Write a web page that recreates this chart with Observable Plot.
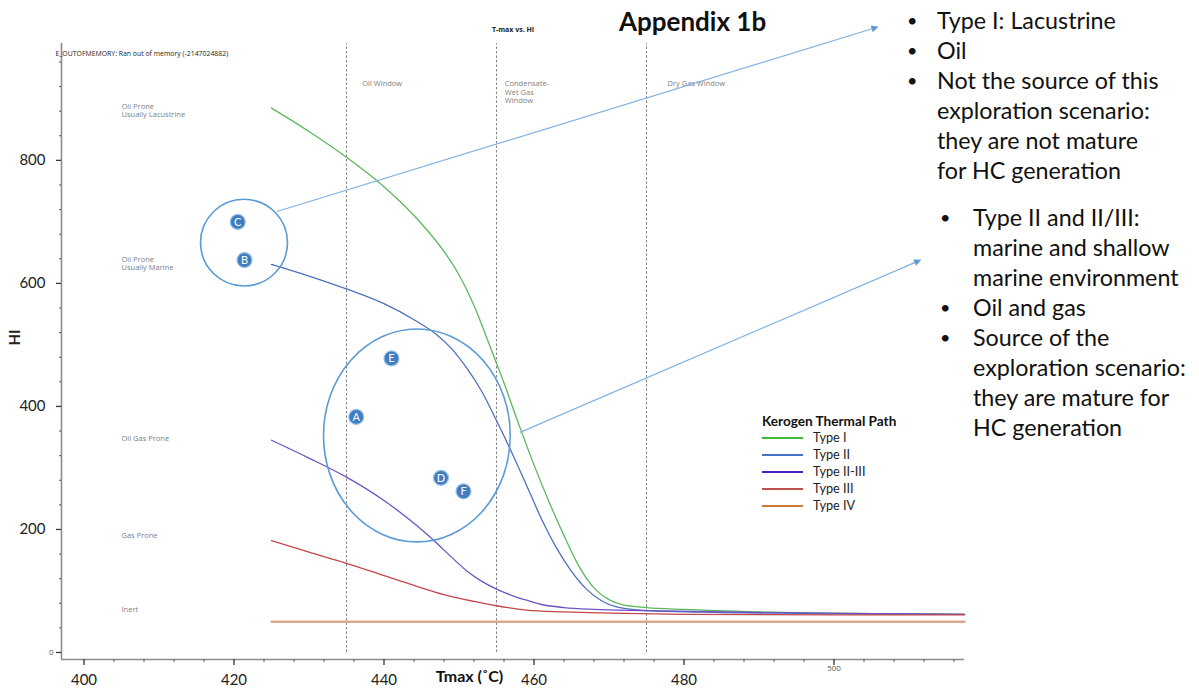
<!DOCTYPE html>
<html><head><meta charset="utf-8">
<script src="https://cdn.jsdelivr.net/npm/d3@7"></script>
<script src="https://cdn.jsdelivr.net/npm/@observablehq/plot@0.6"></script>
<style>
body{margin:0;background:#fff;}
#wrap{position:relative;width:1199px;height:692px;overflow:hidden;font-family:Lato,"Open Sans",sans-serif;background:#fff;}
#wrap svg{position:absolute;left:0;top:0;}
.ov{position:absolute;white-space:nowrap;color:#111;}
.bl{position:absolute;font-size:23.3px;line-height:30px;color:#111;white-space:nowrap;}
.bu{position:absolute;font-size:18px;line-height:30px;color:#111;}
.leg{position:absolute;font-size:12.7px;color:#222;white-space:nowrap;}
.sw{position:absolute;height:2px;width:41px;}
</style></head><body><div id="wrap"></div>
<script>
// ---------- data ----------
const seriesNames = ["Type I", "Type II", "Type II-III", "Type III", "Type IV"];
const typeI_T  = [425, 430, 435, 440, 445, 448, 450, 452, 454, 456, 458, 460, 462, 464, 466, 468, 470, 472, 475, 480, 490, 505, 517.4];
const typeI_HI = [885, 847, 805, 757, 697, 652, 614, 564, 502, 438, 370, 305, 245, 190, 140, 105, 86, 77, 73, 70, 66, 63, 62];
const typeII_T  = [425, 430, 435, 440, 444, 447, 449, 451, 453, 455, 457, 459, 461, 463, 465, 467, 469, 471, 475, 485, 500, 517.4];
const typeII_HI = [631, 612, 591, 567, 541, 517, 494, 463, 425, 377, 326, 272, 217, 170, 132, 103, 84, 74, 68, 65, 63, 62];
const typeIIIII_T  = [425, 430, 435, 440, 444, 447, 449, 451, 453, 455, 457, 459, 461, 464, 468, 475, 490, 517.4];
const typeIIIII_HI = [345, 316, 285, 247, 210, 178, 155, 133, 116, 103, 93, 85, 78, 73, 70, 68, 65, 62];
const typeIII_T  = [425, 430, 435, 440, 444, 448, 452, 455, 459, 464, 470, 480, 500, 517.4];
const typeIII_HI = [182, 163, 145, 125, 109, 94, 83, 76, 69, 66, 64, 62, 61, 61];
const typeIV_T  = [425, 517.4];
const typeIV_HI = [50, 50];

const xTickLabels = [400, 420, 440, 460, 480];
const xSmallTickLabels = [500];
const yTickLabels = [200, 400, 600, 800];
const ySmallTickLabels = [0];

const windowBounds = [435, 455, 475];
const windowLabels = ["Oil Window", "Condensate-\nWet Gas\nWindow", "Dry Gas Window"];
const windowLabelT = [437.1, 456.1, 477.8];
const windowLabelHI = 930;

const proneLabels = ["Oil Prone\nUsually Lacustrine", "Oil Prone\nUsually Marine", "Oil Gas Prone", "Gas Prone", "Inert"];
const proneHI = [881, 632, 348, 190, 70];
const proneT = 405;

const sampleLetters = ["A", "B", "C", "D", "E", "F"];
const sampleT  = [436.3, 421.4, 420.5, 447.6, 441.0, 450.6];
const sampleHI = [383, 638, 700, 284, 478, 262];

// annotation shapes (data coordinates: [T1, T2, HI1, HI2])
const circleSmall = [415.6, 427.2, 595, 736];
const ellipseBig = [432.0, 456.9, 179, 525];
const arrowFrom = [[425.8, 716], [458.2, 357]];
const arrowTo   = [[505.9, 1016], [511.6, 637]];

const bulletsA = ["Type I: Lacustrine", "Oil", "Not the source of this", "exploration scenario:", "they are not mature", "for HC generation"];
const bulletsAMarks = [0, 1, 2];
const bulletsB = ["Type II and II/III:", "marine and shallow", "marine environment", "Oil and gas", "Source of the", "exploration scenario:", "they are mature for", "HC generation"];
const bulletsBMarks = [0, 3, 4];

// ---------- build ----------
const seriesT = [typeI_T, typeII_T, typeIIIII_T, typeIII_T, typeIV_T];
const seriesHI = [typeI_HI, typeII_HI, typeIIIII_HI, typeIII_HI, typeIV_HI];
const lineColors = ["#5cb85c", "#4d70c0", "#7052c6", "#c2474b", "#dba88c"];
const legendColors = ["#3dba3d", "#4472c4", "#4b1fc8", "#c0504d", "#c97a3c"];
const lineWidths = [1.3, 1.3, 1.3, 1.3, 2.4];

const xDom = [397, 517.4];
const yDom = [-11.4, 990];

const rows = seriesNames.map((s, i) => seriesT[i].map((t, j) => ({series: s, T: t, HI: seriesHI[i][j]})));
const samples = sampleLetters.map((l, i) => ({label: l, T: sampleT[i], HI: sampleHI[i]}));
const windows = windowLabels.map((l, i) => ({label: l, T: windowLabelT[i], HI: windowLabelHI}));
const prones = proneLabels.map((l, i) => ({label: l, T: proneT, HI: proneHI[i]}));

const minorX = d3.range(400, 518, 4).filter(v => v % 20 !== 0);
const majorX = d3.range(400, 501, 20);
const minorY = d3.range(40, 990, 40).filter(v => v % 200 !== 0);
const majorY = d3.range(0, 801, 200);

const small = {fontFamily: "'Open Sans', 'Noto Sans', sans-serif", fontSize: 7.5};

const plot = Plot.plot({
  width: 1199, height: 692,
  marginLeft: 61, marginRight: 235, marginTop: 43, marginBottom: 33,
  x: {domain: xDom},
  y: {domain: yDom},
  style: {background: "transparent", overflow: "visible"},
  marks: [
    Plot.ruleX(windowBounds, {y1: 0, y2: yDom[1], stroke: "#777", strokeWidth: 0.9, strokeDasharray: "2.5,2"}),
    Plot.text(windows, {x: "T", y: "HI", text: "label", textAnchor: "start", lineAnchor: "top", lineHeight: 1.1, fill: "#808080", ...small}),
    Plot.text(prones, {x: "T", y: "HI", text: "label", textAnchor: "start", lineAnchor: "middle", lineHeight: 1.1, fill: "#808080", ...small}),
    ...seriesNames.map((s, i) => Plot.line(rows[i], {x: "T", y: "HI", stroke: lineColors[i], strokeWidth: lineWidths[i], curve: "monotone-x"})),
    // axis lines
    Plot.ruleX([xDom[0]], {stroke: "#8c8c8c", strokeWidth: 1.6}),
    Plot.ruleY([yDom[0]], {stroke: "#8c8c8c", strokeWidth: 1.6}),
    // ticks
    Plot.axisX(majorX, {tickSize: 6, tickFormat: () => "", label: null, stroke: "#333", strokeWidth: 1.3}),
    Plot.axisX(minorX, {tickSize: 3, tickFormat: () => "", label: null, stroke: "#555", strokeWidth: 1}),
    Plot.axisY(majorY, {tickSize: 5, tickFormat: () => "", label: null, stroke: "#333", strokeWidth: 1.3}),
    Plot.axisY(minorY, {tickSize: 2, tickFormat: () => "", label: null, stroke: "#555", strokeWidth: 1}),
    // tick labels
    Plot.axisX(xTickLabels, {tickSize: 0, tickPadding: 15, fontSize: 15, fontFamily: "Lato, sans-serif", fill: "#222", label: null}),
    Plot.axisX(xSmallTickLabels, {tickSize: 0, tickPadding: 6, fontSize: 8, fontFamily: "'Open Sans', sans-serif", fill: "#555", label: null}),
    Plot.axisY(yTickLabels, {tickSize: 0, tickPadding: 16, fontSize: 15, fontFamily: "Lato, sans-serif", fill: "#222", label: null}),
    Plot.axisY(ySmallTickLabels, {tickSize: 0, tickPadding: 8, fontSize: 8, fontFamily: "'Open Sans', sans-serif", fill: "#555", label: null}),
    // axis titles
    Plot.text(["HI"], {frameAnchor: "left", dx: -46, dy: -6, rotate: -90, fontSize: 15, fontWeight: "bold", fontFamily: "Lato, sans-serif", fill: "#222"}),
    Plot.text(["Tmax (˚C)"], {x: [451.4], frameAnchor: "bottom", dy: 22, fontSize: 16, fontWeight: "bold", fontFamily: "Lato, sans-serif", fill: "#111"}),
    Plot.text(["T-max vs. HI"], {frameAnchor: "top", dy: -16, fontSize: 7, fontWeight: "bold", fontFamily: "'Open Sans', sans-serif", fill: "#222"}),
    Plot.text(["E_OUTOFMEMORY: Ran out of memory (-2147024882)"], {frameAnchor: "top-left", dx: -6, dy: 8, textAnchor: "start", fontSize: 6.9, fontFamily: "'Open Sans', sans-serif", fill: "#222"}),
    // samples
    Plot.dot(samples, {x: "T", y: "HI", r: 7.5, fill: "#3f7cc0", stroke: "#9cc3e6", strokeWidth: 1.2}),
    Plot.text(samples, {x: "T", y: "HI", text: "label", fill: "white", fontSize: 11, fontFamily: "Lato, sans-serif", dy: 0.5})
  ]
});

const wrap = document.getElementById("wrap");
wrap.appendChild(plot);

// annotation shapes through plot scales
const sx = plot.scale("x"), sy = plot.scale("y");
const X = v => sx.apply(v), Y = v => sy.apply(v);
const svg = d3.select(plot);
const defs = svg.append("defs");
defs.append("marker").attr("id", "ah").attr("viewBox", "0 0 10 10").attr("refX", 9).attr("refY", 5)
  .attr("markerWidth", 9).attr("markerHeight", 7).attr("markerUnits", "userSpaceOnUse").attr("orient", "auto")
  .append("path").attr("d", "M0,0L10,5L0,10z").attr("fill", "#5b9bd5");
const ann = svg.append("g");
[circleSmall, ellipseBig].forEach(b => {
  const x1 = X(b[0]), x2 = X(b[1]), y1 = Y(b[2]), y2 = Y(b[3]);
  ann.append("ellipse").attr("cx", (x1 + x2) / 2).attr("cy", (y1 + y2) / 2)
    .attr("rx", Math.abs(x2 - x1) / 2).attr("ry", Math.abs(y2 - y1) / 2)
    .attr("fill", "none").attr("stroke", "#5b9bd5").attr("stroke-width", 1.6);
});
arrowFrom.forEach((f, i) => {
  ann.append("line").attr("x1", X(f[0])).attr("y1", Y(f[1])).attr("x2", X(arrowTo[i][0])).attr("y2", Y(arrowTo[i][1]))
    .attr("stroke", "#7fb2e3").attr("stroke-width", 1.2).attr("marker-end", "url(#ah)");
});

// title
const t = document.createElement("div");
t.className = "ov";
t.style.cssText = "left:619px;top:5px;font-size:26px;font-weight:bold;line-height:32px;";
t.textContent = "Appendix 1b";
wrap.appendChild(t);

// bullets
function bulletBlock(lines, marks, textLeft, bulletLeft, top) {
  const d = document.createElement("div");
  d.className = "bl";
  d.style.left = textLeft + "px"; d.style.top = top + "px";
  d.innerHTML = lines.map(l => `<div>${l}</div>`).join("");
  wrap.appendChild(d);
  marks.forEach(m => {
    const b = document.createElement("div");
    b.className = "bu";
    b.style.left = bulletLeft + "px"; b.style.top = (top + m * 30) + "px";
    b.textContent = "•";
    wrap.appendChild(b);
  });
}
bulletBlock(bulletsA, bulletsAMarks, 937, 907, 5);
bulletBlock(bulletsB, bulletsBMarks, 973, 940, 202);

// legend
const lt = document.createElement("div");
lt.className = "leg";
lt.style.cssText = "left:762px;top:413px;font-weight:bold;font-size:13.6px;color:#111;";
lt.textContent = "Kerogen Thermal Path";
wrap.appendChild(lt);
seriesNames.forEach((s, i) => {
  const yc = 438 + i * 17;
  const sw = document.createElement("div");
  sw.className = "sw";
  sw.style.left = "762px"; sw.style.top = (yc - 1) + "px"; sw.style.background = legendColors[i];
  wrap.appendChild(sw);
  const tx = document.createElement("div");
  tx.className = "leg";
  tx.style.left = "813px"; tx.style.top = (yc - 9) + "px";
  tx.textContent = s;
  wrap.appendChild(tx);
});
</script>
</body></html>
